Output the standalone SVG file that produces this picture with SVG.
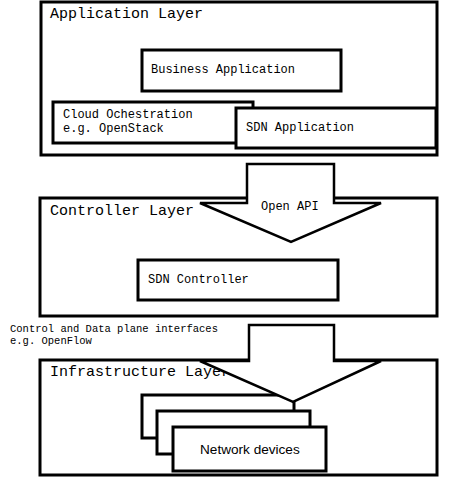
<svg xmlns="http://www.w3.org/2000/svg" width="457" height="478" viewBox="0 0 457 478">
<style>
.layer{fill:#fff;stroke:#000;stroke-width:3}
.box{fill:#fff;stroke:#000;stroke-width:3}
.arrow{fill:#fff;stroke:#000;stroke-width:2.5;stroke-linejoin:miter}
.title{font-family:"Liberation Mono","Courier New",monospace;font-size:15px;fill:#000}
.lbl{font-family:"Liberation Mono","Courier New",monospace;font-size:12px;fill:#000}
.small{font-family:"Liberation Mono","Courier New",monospace;font-size:10.5px;fill:#000}
.sans{font-family:"Liberation Sans",Arial,sans-serif;font-size:13.6px;fill:#000}
</style>
<rect width="457" height="478" fill="#fff"/>
<g id="application-layer">
<rect class="layer" x="41" y="2" width="396" height="153"/>
<text class="title" x="50" y="18">Application Layer</text>
</g>
<g id="business-application">
<rect class="box" x="142" y="50" width="199" height="41"/>
<text class="lbl" x="151" y="73">Business Application</text>
</g>
<g id="cloud-orchestration">
<rect class="box" x="53" y="102" width="200" height="41"/>
<text class="lbl" x="63" y="118">Cloud Ochestration</text>
<text class="lbl" x="63" y="132">e.g. OpenStack</text>
</g>
<g id="sdn-application">
<rect class="box" x="236" y="108" width="200" height="40"/>
<text class="lbl" x="246" y="131">SDN Application</text>
</g>
<g id="controller-layer">
<rect class="layer" x="40" y="198" width="397" height="118"/>
<text class="title" x="50" y="215">Controller Layer</text>
</g>
<g id="sdn-controller">
<rect class="box" x="138" y="260" width="200" height="40"/>
<text class="lbl" x="148" y="283">SDN Controller</text>
</g>
<g id="infrastructure-layer">
<rect class="layer" x="40" y="360" width="397" height="115"/>
<text class="title" x="50" y="376">Infrastructure Layer</text>
</g>
<g id="network-devices">
<rect class="box" x="142" y="395" width="152" height="43"/>
<rect class="box" x="157" y="411" width="153" height="43"/>
<rect class="box" x="173" y="427" width="153" height="44"/>
<text class="sans" x="200" y="454">Network devices</text>
</g>
<g id="connectors">
<polygon class="arrow" points="247,164 334,164 334,203 381,203 291,242 200,203 247,203"/>
<text class="lbl" x="261" y="210">Open API</text>
<polygon class="arrow" points="249,325 334,325 334,361 381,361 293,402 200,361 249,361"/>
<text class="small" x="10" y="332">Control and Data plane interfaces</text>
<text class="small" x="10" y="344">e.g. OpenFlow</text>
</g>
</svg>
